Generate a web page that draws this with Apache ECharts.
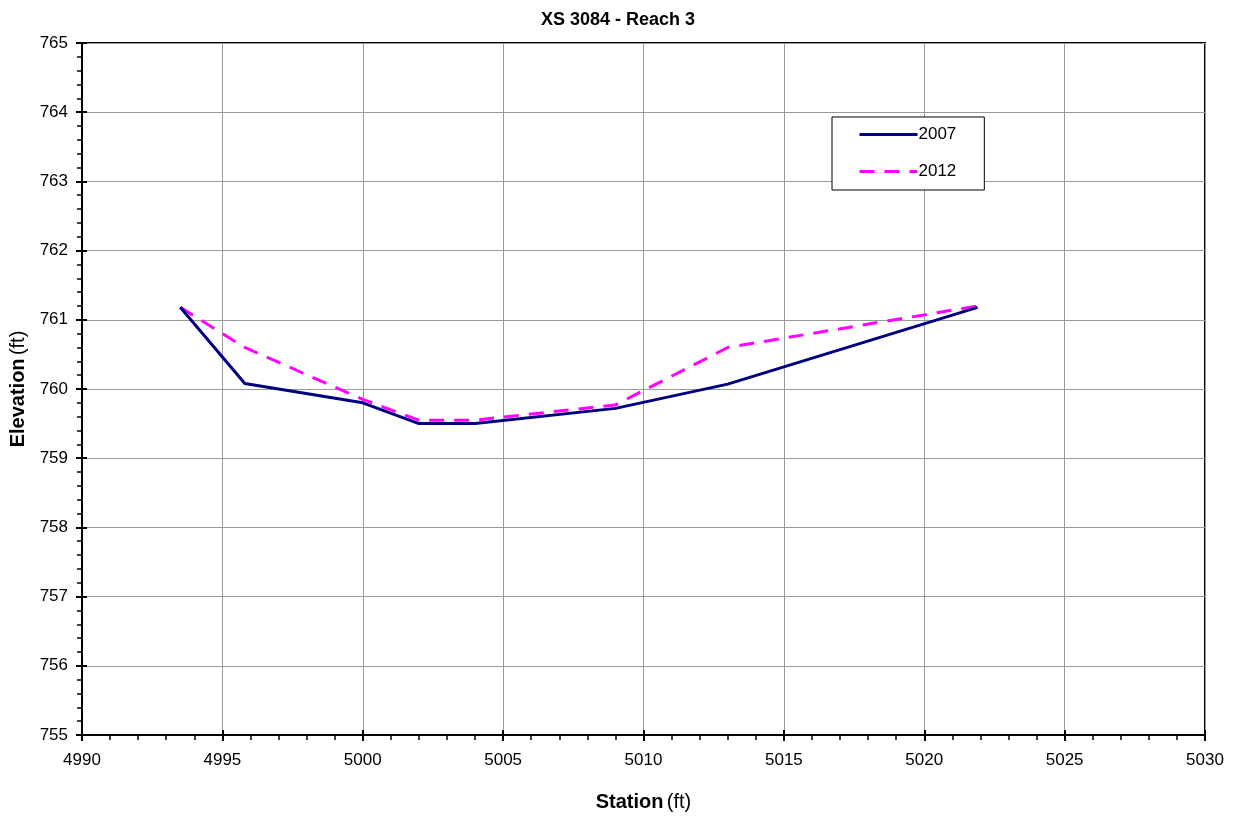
<!DOCTYPE html>
<html>
<head>
<meta charset="utf-8">
<script src="https://cdn.jsdelivr.net/npm/echarts@6/dist/echarts.min.js"></script>
<style>
  html, body { margin: 0; padding: 0; background: #fff; }
  #main { width: 1236px; height: 818px; }
</style>
</head>
<body>
<div id="main"></div>
<script>
// station (ft) for each surveyed point
let stations = [4993.5, 4995.8, 5000, 5002, 5004, 5009, 5013, 5021.9];
// elevation (ft)
let elev2007 = [761.18, 760.08, 759.80, 759.50, 759.50, 759.72, 760.07, 761.18];
let elev2012 = [761.18, 760.60, 759.85, 759.55, 759.55, 759.77, 760.60, 761.20];

function pairs(xs, ys) {
    return xs.map(function (x, i) { return [x, ys[i]]; });
}

let fontFam = 'Liberation Sans, Arial, sans-serif';
let chart = echarts.init(document.getElementById('main'));

let gridBox = { left: 82, right: 31, top: 43, bottom: 83 };
let nameRich = {
    b: { fontSize: 20, fontWeight: 'bold', color: '#000', fontFamily: fontFam },
    n: { fontSize: 20, color: '#000', fontFamily: fontFam }
};
let plainNum = function (v) { return String(v); };

let option = {
    animation: false,
    backgroundColor: '#fff',
    textStyle: { fontFamily: fontFam },
    title: {
        text: 'XS 3084 - Reach 3',
        left: 'center',
        top: 6,
        textStyle: { fontSize: 18, fontWeight: 'bold', color: '#000', fontFamily: fontFam }
    },
    legend: {
        orient: 'vertical',
        left: 832,
        top: 117,
        padding: [9, 28, 10, 26],
        itemGap: 20,
        itemWidth: 58,
        itemHeight: 18,
        borderColor: '#000',
        borderWidth: 1,
        backgroundColor: '#fff',
        itemStyle: { opacity: 0 },
        lineStyle: { width: 3 },
        textStyle: { fontSize: 17, color: '#000', padding: [0, 0, 0, -4] },
        data: ['2007', '2012']
    },
    grid: Object.assign({ show: true, borderColor: '#000', borderWidth: 2, outerBoundsMode: 'none', containLabel: false }, gridBox),
    xAxis: [{
        type: 'value',
        min: 4990, max: 5030, interval: 5,
        name: '{b|Station} {n|(ft)}',
        nameLocation: 'middle',
        nameGap: 57,
        nameTextStyle: { rich: nameRich },
        axisLine: { lineStyle: { color: '#000', width: 2 } },
        axisTick: { length: 6, lineStyle: { color: '#000', width: 2 } },
        minorTick: { show: true, splitNumber: 5, length: 5, lineStyle: { color: '#000', width: 1.5 } },
        axisLabel: { fontSize: 17, color: '#000', margin: 17, formatter: plainNum },
        splitLine: { show: true, lineStyle: { color: '#999', width: 1 } }
    }, {
        type: 'value',
        min: 4990, max: 5030, interval: 5,
        position: 'bottom',
        axisLine: { show: false },
        axisTick: { inside: true, length: 5, lineStyle: { color: '#000', width: 2 } },
        axisLabel: { show: false },
        splitLine: { show: false }
    }],
    yAxis: [{
        type: 'value',
        min: 755, max: 765, interval: 1,
        name: '{b|Elevation} {n|(ft)}',
        nameLocation: 'middle',
        nameRotate: 90,
        nameGap: 53,
        nameTextStyle: { rich: nameRich },
        axisLine: { show: true, lineStyle: { color: '#000', width: 2 } },
        axisTick: { show: true, length: 6, lineStyle: { color: '#000', width: 2 } },
        minorTick: { show: true, splitNumber: 5, length: 5, lineStyle: { color: '#000', width: 1.5 } },
        axisLabel: { fontSize: 17, color: '#000', margin: 14, formatter: plainNum },
        splitLine: { show: true, lineStyle: { color: '#999', width: 1 } }
    }, {
        type: 'value',
        min: 755, max: 765, interval: 1,
        position: 'left',
        axisLine: { show: false },
        axisTick: { show: true, inside: true, length: 5, lineStyle: { color: '#000', width: 2 } },
        axisLabel: { show: false },
        splitLine: { show: false }
    }],
    series: [{
        name: '2007',
        type: 'line',
        symbol: 'none',
        data: pairs(stations, elev2007),
        lineStyle: { color: '#000080', width: 3 },
        itemStyle: { color: '#000080' },
        z: 3
    }, {
        name: '2012',
        type: 'line',
        symbol: 'none',
        data: pairs(stations, elev2012),
        lineStyle: { color: '#FF00FF', width: 3, type: [15, 10] },
        itemStyle: { color: '#FF00FF' },
        z: 2
    }]
};

chart.setOption(option);
</script>
</body>
</html>
